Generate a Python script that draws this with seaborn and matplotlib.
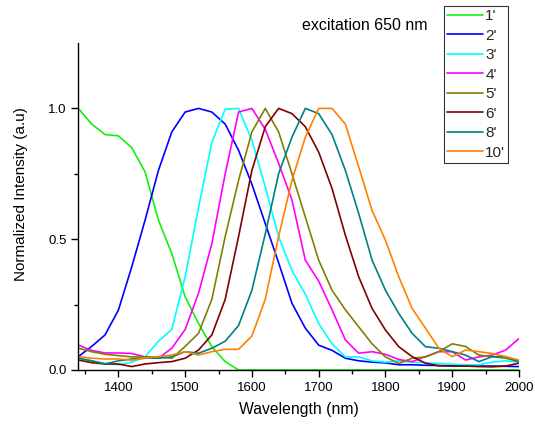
import numpy as np
import pandas as pd
import matplotlib
matplotlib.use("Agg")
import matplotlib.pyplot as plt
import seaborn as sns
from matplotlib.lines import Line2D

wavelength = list(range(1340, 2001, 20))

s1 = [1.0, 0.94, 0.90, 0.895, 0.85, 0.757, 0.573, 0.445, 0.28, 0.178, 0.089, 0.032, 0.0,
      0, 0, 0, 0, 0, 0, 0, 0, 0, 0, 0, 0, 0, 0, 0, 0, 0, 0, 0, 0, 0]
s2 = [0.051, 0.09, 0.134, 0.229, 0.394, 0.573, 0.763, 0.91, 0.986, 1.0, 0.986, 0.94, 0.84,
      0.71, 0.56, 0.41, 0.255, 0.16, 0.095, 0.075, 0.045, 0.035, 0.03, 0.027, 0.02, 0.02,
      0.018, 0.017, 0.016, 0.015, 0.015, 0.015, 0.014, 0.013]
s3 = [0.045, 0.035, 0.025, 0.02, 0.03, 0.05, 0.11, 0.155, 0.356, 0.62, 0.87, 0.997, 1.0,
      0.878, 0.70, 0.51, 0.38, 0.29, 0.178, 0.10, 0.05, 0.05, 0.035, 0.03, 0.035, 0.03,
      0.028, 0.025, 0.022, 0.02, 0.02, 0.03, 0.035, 0.03]
s4 = [0.095, 0.075, 0.065, 0.065, 0.063, 0.05, 0.045, 0.083, 0.155, 0.293, 0.483, 0.75, 0.986,
      1.0, 0.92, 0.79, 0.65, 0.42, 0.34, 0.23, 0.115, 0.064, 0.07, 0.06, 0.04, 0.032,
      0.051, 0.07, 0.07, 0.038, 0.05, 0.057, 0.076, 0.12]
s5 = [0.083, 0.07, 0.06, 0.055, 0.05, 0.05, 0.05, 0.045, 0.09, 0.14, 0.27, 0.51, 0.725,
      0.91, 1.0, 0.91, 0.75, 0.585, 0.42, 0.305, 0.23, 0.165, 0.10, 0.05, 0.025, 0.045,
      0.05, 0.07, 0.10, 0.09, 0.057, 0.051, 0.045, 0.032]
s6 = [0.038, 0.028, 0.023, 0.023, 0.013, 0.023, 0.028, 0.032, 0.045, 0.076, 0.134, 0.27, 0.51,
      0.763, 0.93, 1.0, 0.98, 0.93, 0.833, 0.694, 0.515, 0.356, 0.235, 0.153, 0.089, 0.051,
      0.026, 0.016, 0.015, 0.015, 0.013, 0.012, 0.015, 0.026]
s8 = [0.045, 0.035, 0.023, 0.035, 0.042, 0.045, 0.045, 0.05, 0.07, 0.064, 0.083, 0.11, 0.17,
      0.305, 0.52, 0.75, 0.89, 1.0, 0.98, 0.9, 0.763, 0.598, 0.42, 0.305, 0.216, 0.14,
      0.089, 0.083, 0.07, 0.057, 0.032, 0.051, 0.051, 0.032]
s10 = [0.051, 0.045, 0.042, 0.042, 0.038, 0.045, 0.051, 0.057, 0.07, 0.057, 0.07, 0.079, 0.079,
       0.13, 0.27, 0.51, 0.725, 0.89, 1.0, 1.0, 0.94, 0.776, 0.61, 0.496, 0.356, 0.235,
       0.16, 0.083, 0.051, 0.076, 0.07, 0.063, 0.051, 0.038]

labels = ["1'", "2'", "3'", "4'", "5'", "6'", "8'", "10'"]
series = [s1, s2, s3, s4, s5, s6, s8, s10]
colors = ["#11F011", "#0000FF", "#00FFFF", "#FF00FF", "#808000", "#800000", "#008080", "#FF8000"]

frames = []
for lab, vals in zip(labels, series):
    assert len(vals) == len(wavelength)
    frames.append(pd.DataFrame({"Wavelength": wavelength, "Intensity": vals, "Sample": lab}))
df = pd.concat(frames, ignore_index=True)

sns.set_theme(style="ticks")
plt.rcParams["font.family"] = ["Liberation Sans", "DejaVu Sans"]

fig = plt.figure(figsize=(5.35, 4.24), dpi=100)
ax = fig.add_axes([0.1464, 0.1274, 0.970 - 0.1464, 0.8986 - 0.1274])

sns.lineplot(data=df, x="Wavelength", y="Intensity", hue="Sample", hue_order=labels,
             palette=colors, linewidth=1.2, ax=ax, legend=False, estimator=None, sort=False)

ax.set_xlim(1340, 2000)
ax.set_ylim(0, 1.25)
ax.set_xticks([1400, 1500, 1600, 1700, 1800, 1900, 2000])
ax.set_xticks([1350, 1450, 1550, 1650, 1750, 1850, 1950], minor=True)
ax.set_yticks([0.0, 0.5, 1.0])
ax.set_yticklabels(["0.0", "0.5", "1.0"])
ax.set_yticks([0.25, 0.75], minor=True)
ax.tick_params(axis="both", which="major", length=5, width=1, labelsize=9.5, color="black", labelcolor="black")
ax.tick_params(axis="both", which="minor", length=3, width=1, color="black")
for side in ["top", "right"]:
    ax.spines[side].set_visible(False)
for side in ["left", "bottom"]:
    ax.spines[side].set_color("black")
    ax.spines[side].set_linewidth(1.0)

ax.set_xlabel("Wavelength (nm)", fontsize=11.3, color="black", labelpad=6)
ax.set_ylabel("Normalized Intensity (a.u)", fontsize=11, color="black")
ax.yaxis.set_label_coords(-0.115, 0.537)

handles = [Line2D([0], [0], color=c, lw=1.2) for c in colors]
leg = fig.legend(handles, labels, loc="upper left", bbox_to_anchor=(444 / 535, 1 - 6 / 424),
                 frameon=True, fancybox=False, edgecolor="black", fontsize=11,
                 handlelength=2.35, handletextpad=0.15, labelspacing=0.36,
                 borderpad=0.2, borderaxespad=0.0)
leg.get_frame().set_linewidth(0.8)

fig.text(302 / 535, 1 - 26 / 424, "excitation 650 nm", fontsize=11.5, ha="left", va="center", color="black")

fig.savefig("out.png", dpi=100)
